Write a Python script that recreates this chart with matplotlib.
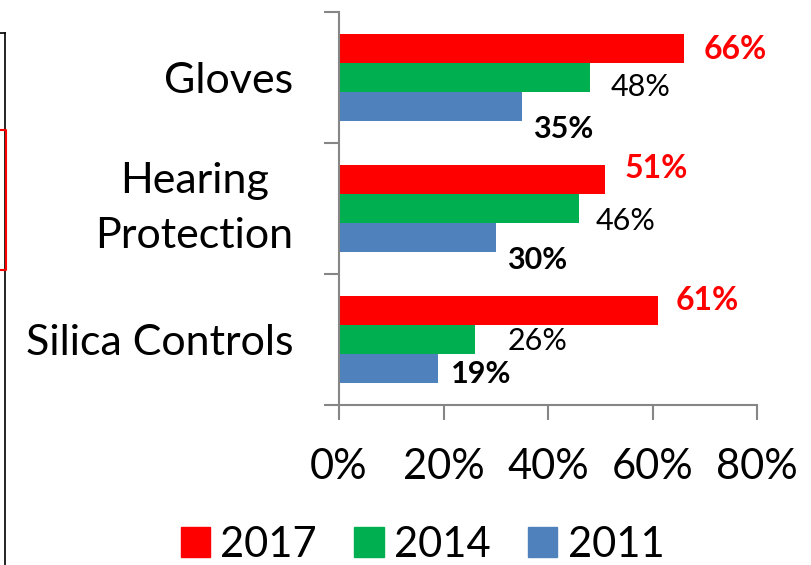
import numpy as np
from matplotlib import pyplot as plt
from matplotlib.lines import Line2D
from matplotlib.patches import Patch

# categories, top to bottom
categories = ["Gloves", "Hearing\nProtection", "Silica Controls"]
years = ["2017", "2014", "2011"]
colors = ["#FF0000", "#00B050", "#4F81BD"]

# percent of sites, one list per year
v2017 = [66, 51, 61]
v2014 = [48, 46, 26]
v2011 = [35, 30, 19]

# label nudges (pixels) from the end / middle of each bar
label_dx = [[51, 51, 41], [51, 46, 41], [50, 63, 43]]
label_dy = [[-1.5, 6.5, 19.5], [-13, 9.5, 20], [-12.5, -1.5, 3]]

plt.rcParams['font.family'] = ['Lato', 'DejaVu Sans']
DPI = 100
fig = plt.figure(figsize=(8.11, 5.65), dpi=DPI)
ax = fig.add_axes([339 / 811, 1 - 405 / 565, (757 - 339) / 811, (405 - 12) / 565])

gray = "#868686"
bar_h = 0.222
ypos = np.arange(len(categories))
series = [v2017, v2014, v2011]
for k, vals in enumerate(series):
    ax.barh(ypos + (k - 1) * bar_h, vals, height=bar_h, color=colors[k], label=years[k])

ax.set_xlim(0, 80)
ax.set_ylim(2.5, -0.5)

# value labels
px = 72.0 / DPI
for i in range(len(categories)):
    for k, vals in enumerate(series):
        txt = f"{vals[i]}%"
        ax.annotate(txt, (vals[i], ypos[i] + (k - 1) * bar_h),
                    xytext=(label_dx[i][k] * px, -label_dy[i][k] * px),
                    textcoords='offset points', ha='center', va='center_baseline',
                    fontsize=23 if k == 0 else 22,
                    color="#FF0000" if k == 0 else "black",
                    fontweight='bold' if k != 1 else 'normal')

# axes styling
for s in ["top", "right"]:
    ax.spines[s].set_visible(False)
for s in ["left", "bottom"]:
    ax.spines[s].set_color(gray)
    ax.spines[s].set_linewidth(1.5)

ax.set_xticks([0, 20, 40, 60, 80])
ax.set_xticklabels(["0%", "20%", "40%", "60%", "80%"], fontsize=30)
ax.tick_params(axis='x', length=11, width=1.5, color=gray, pad=20)

ax.set_yticks([-0.5, 0.5, 1.5, 2.5])
ax.set_yticklabels([])
ax.tick_params(axis='y', which='major', length=11, width=1.5, color=gray)
ax.set_yticks(ypos, minor=True)
ax.set_yticklabels(categories, minor=True, fontsize=31)
ax.tick_params(axis='y', which='minor', length=0, pad=33)
for t in ax.get_yticklabels(minor=True):
    t.set_multialignment('center')
    t.set_linespacing(1.55)
    if "\n" in t.get_text():
        t.set_verticalalignment('center')

# legend
handles = [Patch(color=c, label=y) for c, y in zip(colors, years)]
fig.legend(handles=handles, loc='center', bbox_to_anchor=(0.521, 0.036), ncol=3,
           frameon=False, fontsize=30, handlelength=0.7, handleheight=0.7,
           handletextpad=0.25, columnspacing=0.9, borderaxespad=0)

# frame edges on the left side
fig.add_artist(Line2D([4.5 / 811, 4.5 / 811], [1 - 33 / 565, 0], color="black", lw=1.2))
fig.add_artist(Line2D([0, 4.5 / 811], [1 - 33 / 565, 1 - 33 / 565], color="black", lw=1.2))
fig.add_artist(Line2D([0, 6 / 811, 6 / 811, 0],
                      [1 - 130 / 565, 1 - 130 / 565, 1 - 270 / 565, 1 - 270 / 565],
                      color="#FF0000", lw=1.5))

fig.savefig("out.png", dpi=DPI)
